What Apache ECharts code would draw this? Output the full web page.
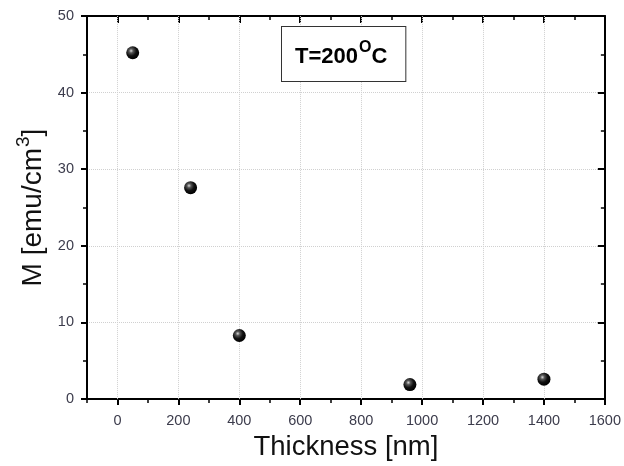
<!DOCTYPE html>
<html><head><meta charset="utf-8">
<script src="https://cdn.jsdelivr.net/npm/echarts@6/dist/echarts.min.js"></script>
<style>html,body{margin:0;padding:0;background:#fff}#c{width:624px;height:466px}</style>
</head><body><div id="c"></div>
<script>
const thickness = [50, 240, 400, 960, 1400];
const magnetization = [45.2, 27.6, 8.3, 1.9, 2.6];
const xTicks = [0, 200, 400, 600, 800, 1000, 1200, 1400, 1600];
const xMinorTicks = [-100, 100, 300, 500, 700, 900, 1100, 1300, 1500];
const yTicks = [0, 10, 20, 30, 40, 50];

const chart = echarts.init(document.getElementById('c'), null, {renderer: 'canvas'});
const font = 'Liberation Sans, Arial, sans-serif';
const lab = {color: '#3c3c4c', fontSize: 14.5, fontFamily: font};
const ball = {
  type: 'radial', x: 0.38, y: 0.35, r: 0.65,
  colorStops: [{offset: 0, color: '#d8d8d8'}, {offset: 0.25, color: '#555'}, {offset: 0.6, color: '#111'}, {offset: 1, color: '#000'}]
};
const blk = {color: '#000', width: 2};
const gridStyle = {color: '#d0d0d0', type: 'dotted', width: 1};
function xAx(pos, major, inside) {
  return {
    type: 'value', min: -100, max: 1600, interval: 100, position: pos,
    axisLine: {show: major, onZero: false, lineStyle: blk},
    axisTick: {show: true, inside: inside, length: major ? (inside ? 7 : 6) : 4,
      customValues: major ? xTicks : xMinorTicks, lineStyle: {color: '#000', width: major ? 2 : 1.5}},
    axisLabel: {show: false}, splitLine: {show: false}
  };
}
const xBottom = xAx('bottom', true, false);
xBottom.name = 'Thickness [nm]';
xBottom.nameLocation = 'middle';
xBottom.nameGap = 33;
xBottom.nameTextStyle = {fontSize: 27.5, color: '#111', fontFamily: font};
xBottom.axisLabel = Object.assign({show: true, margin: 14, customValues: xTicks, formatter: v => String(v)}, lab);

chart.setOption({
  animation: false,
  grid: {left: 87, right: 17, top: 16, bottom: 65},
  xAxis: [xBottom, xAx('bottom', false, false), xAx('top', true, true), xAx('top', false, true)],
  yAxis: [{
    type: 'value', min: 0, max: 50, interval: 10, position: 'left',
    name: '{a|M [emu/cm}{s|3}{a|]}', nameLocation: 'middle', nameGap: 36,
    nameTextStyle: {
      color: '#111', fontFamily: font,
      rich: {
        a: {fontSize: 28, color: '#111', fontFamily: font, verticalAlign: 'bottom'},
        s: {fontSize: 19, color: '#111', fontFamily: font, verticalAlign: 'top', padding: [0, 0, 14, 1]}
      }
    },
    axisLine: {onZero: false, lineStyle: blk},
    axisTick: {show: true, length: 6, lineStyle: {color: '#000', width: 2}},
    minorTick: {show: true, splitNumber: 2, length: 4, lineStyle: {color: '#000', width: 1.5}},
    axisLabel: Object.assign({margin: 13}, lab),
    splitLine: {show: true, lineStyle: gridStyle}
  }, {
    type: 'value', min: 0, max: 50, interval: 10, position: 'right',
    axisLine: {onZero: false, lineStyle: blk},
    axisTick: {show: true, inside: true, length: 7, lineStyle: {color: '#000', width: 2}},
    minorTick: {show: true, splitNumber: 2, length: 4, lineStyle: {color: '#000', width: 1.5}},
    axisLabel: {show: false}, splitLine: {show: false}
  }],
  series: [{
    type: 'scatter', xAxisIndex: 0, yAxisIndex: 0, z: 5,
    data: thickness.map((t, i) => [t, magnetization[i]]),
    symbol: 'circle', symbolSize: 13,
    itemStyle: {color: ball, opacity: 1},
    markLine: {
      silent: true, symbol: ['none', 'none'], label: {show: false}, z: 1,
      lineStyle: gridStyle, emphasis: {disabled: true},
      data: xTicks.filter(v => v > -100 && v < 1600).map(v => ({xAxis: v}))
    }
  }],
  graphic: [{
    type: 'text', left: 281, top: 26, z: 100,
    style: {
      rich: {
        m: {fontSize: 22, fontWeight: 'bold', fontFamily: font, color: '#000', verticalAlign: 'bottom'},
        s: {fontSize: 16, fontWeight: 'bold', fontFamily: font, color: '#000', verticalAlign: 'top', padding: [0, 0, 12, 1]}
      },
      text: '{m|T=200}{s|O}{m|C}',
      backgroundColor: '#fff', borderColor: '#333', borderWidth: 1,
      padding: [13, 18, 13, 13]
    }
  }]
});
</script></body></html>
